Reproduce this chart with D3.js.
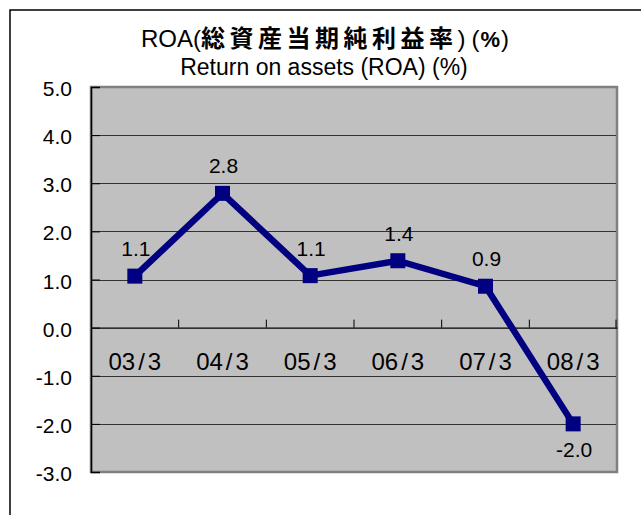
<!DOCTYPE html>
<html>
<head>
<meta charset="utf-8">
<script src="https://cdn.jsdelivr.net/npm/d3@7"></script>
<style>
  html, body { margin: 0; padding: 0; background: #fff; }
  svg { display: block; }
</style>
</head>
<body>
<script>
const categories = ["03/3", "04/3", "05/3", "06/3", "07/3", "08/3"];
const roaValues = [1.07, 2.79, 1.08, 1.39, 0.86, -2.0];
const yTicks = [5, 4, 3, 2, 1, 0, -1, -2, -3];
const titleLine1 = { latin: "ROA(", cjk: "総資産当期純利益率" };
const titleLine2 = "Return on assets (ROA) (%)";

const W = 641, H = 515;
const plot = { left: 91, right: 617, top: 87, bottom: 472 };
const latin = "'Liberation Sans', Arial, sans-serif";
const cjkFont = "'Noto Sans CJK JP', 'Noto Sans CJK SC', sans-serif";

const svg = d3.select("body").append("svg").attr("width", W).attr("height", H);

// outer frame
svg.append("rect").attr("x", 10).attr("y", 10).attr("width", 700).attr("height", 600)
  .attr("fill", "#fff").attr("stroke", "#000").attr("stroke-width", 1.5);

const x = d3.scaleBand().domain(categories).range([plot.left, plot.right]).padding(0);
const y = d3.scaleLinear().domain([-3, 5]).range([plot.bottom, plot.top]);

// plot area
svg.append("rect").attr("x", plot.left).attr("y", plot.top)
  .attr("width", plot.right - plot.left).attr("height", plot.bottom - plot.top)
  .attr("fill", "#c0c0c0").attr("stroke", "#808080").attr("stroke-width", 2.5);

// gridlines
svg.append("g").selectAll("line").data(yTicks.filter(t => t !== 5 && t !== -3 && t !== 0)).join("line")
  .attr("x1", plot.left).attr("x2", plot.right - 1)
  .attr("y1", d => Math.round(y(d)) + 0.5).attr("y2", d => Math.round(y(d)) + 0.5)
  .attr("stroke", "#333").attr("stroke-width", 1);

// y axis (ticks inside)
const yAxis = d3.axisLeft(y).tickValues(yTicks).tickSize(-9).tickFormat(d3.format(".1f"));
const yg = svg.append("g").attr("transform", `translate(${plot.left},0)`).call(yAxis);
yg.select(".domain").attr("stroke", "#000").attr("stroke-width", 1.5);
yg.selectAll(".tick line").attr("stroke", "#000");
yg.selectAll(".tick text").remove();

// y tick labels
svg.append("g").selectAll("text").data(yTicks).join("text")
  .attr("x", 72).attr("y", d => y(d) + 9)
  .attr("text-anchor", "end")
  .attr("font-family", latin).attr("font-size", 21).attr("fill", "#000")
  .text(d => d3.format(".1f")(d).replace("−", "-"));

// category axis at zero, ticks upward
const xAxis = d3.axisBottom(x).tickSize(0).tickFormat("");
const xg = svg.append("g").attr("transform", `translate(0,${y(0)})`).call(xAxis);
xg.select(".domain").attr("stroke", "#000").attr("stroke-width", 1.2);
const bounds = categories.slice(1).map(c => x(c)).concat([plot.right - 1]);
svg.append("g").selectAll("line").data(bounds).join("line")
  .attr("x1", d => d).attr("x2", d => d)
  .attr("y1", y(0)).attr("y2", y(0) - 8)
  .attr("stroke", "#000").attr("stroke-width", 1);

// category labels
const cl = svg.append("g").selectAll("text").data(categories).join("text")
  .attr("x", d => x(d) + x.bandwidth() / 2).attr("y", 370)
  .attr("text-anchor", "middle")
  .attr("font-family", latin).attr("font-size", 24).attr("fill", "#000");
cl.each(function(d) {
  const parts = d.split("/");
  const t = d3.select(this);
  t.append("tspan").text(parts[0]);
  t.append("tspan").attr("dx", 3).text("/");
  t.append("tspan").attr("dx", 3).text(parts[1]);
});

// line
const pts = categories.map((c, i) => [x(c) + x.bandwidth() / 2, y(roaValues[i])]);
svg.append("path").attr("d", d3.line()(pts))
  .attr("fill", "none").attr("stroke", "#000080").attr("stroke-width", 6.5)
  .attr("stroke-linejoin", "miter");

// markers
svg.append("g").selectAll("rect").data(pts).join("rect")
  .attr("x", d => d[0] - 7.5).attr("y", d => d[1] - 7.5)
  .attr("width", 15).attr("height", 15).attr("fill", "#000080");

// value labels
svg.append("g").selectAll("text").data(roaValues).join("text")
  .attr("x", (d, i) => pts[i][0] + 1)
  .attr("y", (d, i) => d >= 0 ? pts[i][1] - 20 : pts[i][1] + 33)
  .attr("text-anchor", "middle")
  .attr("font-family", latin).attr("font-size", 21).attr("fill", "#000")
  .text(d => d3.format(".1f")(d).replace("−", "-"));

// title
const t1 = svg.append("text").attr("x", 141).attr("y", 47).attr("fill", "#000");
t1.append("tspan").attr("font-family", latin).attr("font-size", 24).text(titleLine1.latin);
t1.append("tspan").attr("font-family", cjkFont).attr("font-weight", "bold").attr("font-size", 24)
  .attr("letter-spacing", 4.5).text(titleLine1.cjk);
t1.append("tspan").attr("font-family", latin).attr("font-size", 24).attr("dx", 0).text(")");
t1.append("tspan").attr("font-family", latin).attr("font-size", 24).attr("dx", 6).text("(");
t1.append("tspan").attr("font-family", latin).attr("font-weight", "bold").attr("font-size", 22).attr("dx", 1).text("%");
t1.append("tspan").attr("font-family", latin).attr("font-size", 24).attr("dx", 1).text(")");

svg.append("text").attr("x", 324).attr("y", 75).attr("text-anchor", "middle")
  .attr("font-family", latin).attr("font-size", 23).attr("fill", "#000").text(titleLine2);
</script>
</body>
</html>
